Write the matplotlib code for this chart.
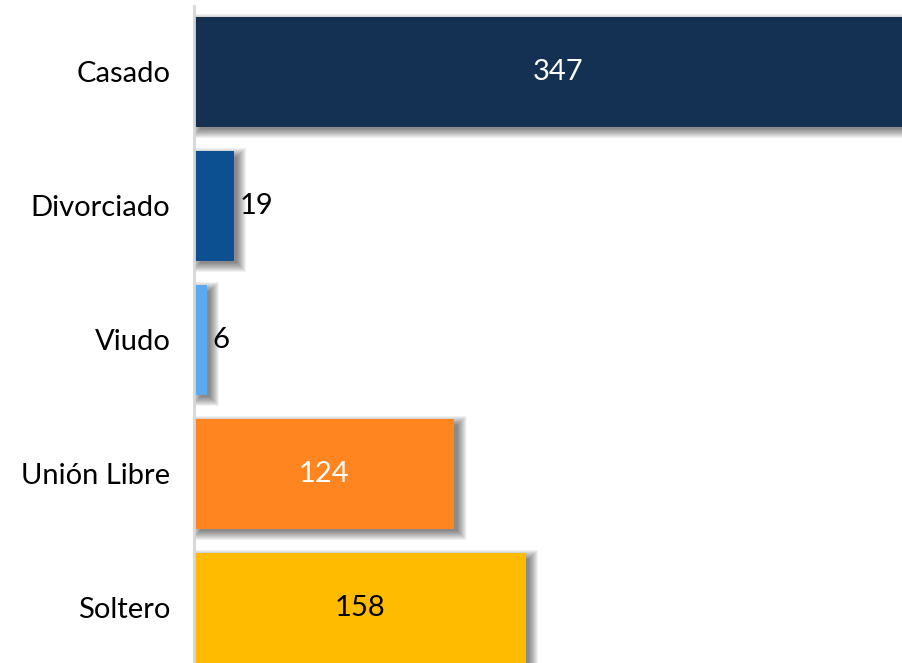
import matplotlib
matplotlib.use("Agg")
import matplotlib.pyplot as plt
import numpy as np

categories = ["Casado", "Divorciado", "Viudo", "Unión Libre", "Soltero"]
values = [347, 19, 6, 124, 158]
colors = ["#143154", "#0d5092", "#5ba9ef", "#ff8520", "#ffbb00"]
label_colors = ["white", "black", "black", "white", "black"]
label_inside = [True, False, False, True, True]

plt.rcParams["font.family"] = ["Lato", "DejaVu Sans"]

fig = plt.figure(figsize=(9.03, 6.63), dpi=100)
ax = fig.add_axes([194 / 903, 0, 1 - 194 / 903, 1])

y = np.arange(len(categories))
height = 0.82
vals = np.array(values, dtype=float)

# soft drop shadow behind bars (stacked translucent layers)
px = 1 / 2.1  # data units per pixel in x
py = 1 / 134  # data units per pixel in y
for k in range(20):
    grow = k * 0.5 - 2
    ax.barh(y + 4 * py, vals + 2 * grow * px, height=height + 2 * grow * py,
            left=5 * px - grow * px, color="black", alpha=0.028,
            linewidth=0, zorder=1)

ax.barh(y, vals, height=height, color=colors, linewidth=0, zorder=3)

for yi, v, c, inside in zip(y, values, label_colors, label_inside):
    if inside:
        ax.text(v / 2, yi, str(v), ha="center", va="center", color=c,
                fontsize=21, zorder=4)
    else:
        ax.text(v + 6 * px, yi, str(v), ha="left", va="center", color=c,
                fontsize=21, zorder=4)

ax.set_xlim(0, 709 / 2.1)
ax.set_ylim((663 - 72) / 134, -72 / 134)
ax.set_yticks(y)
ax.set_yticklabels(categories, fontsize=21)
ax.tick_params(axis="y", length=0, pad=17)
ax.set_xticks([])
for side in ["top", "right", "bottom"]:
    ax.spines[side].set_visible(False)
ax.spines["left"].set_color("#d6d6d6")
ax.spines["left"].set_linewidth(2)
ax.spines["left"].set_bounds((663 - 72) / 134, -66 / 134)
ax.spines["left"].set_zorder(5)

fig.savefig("out.png", dpi=100)
